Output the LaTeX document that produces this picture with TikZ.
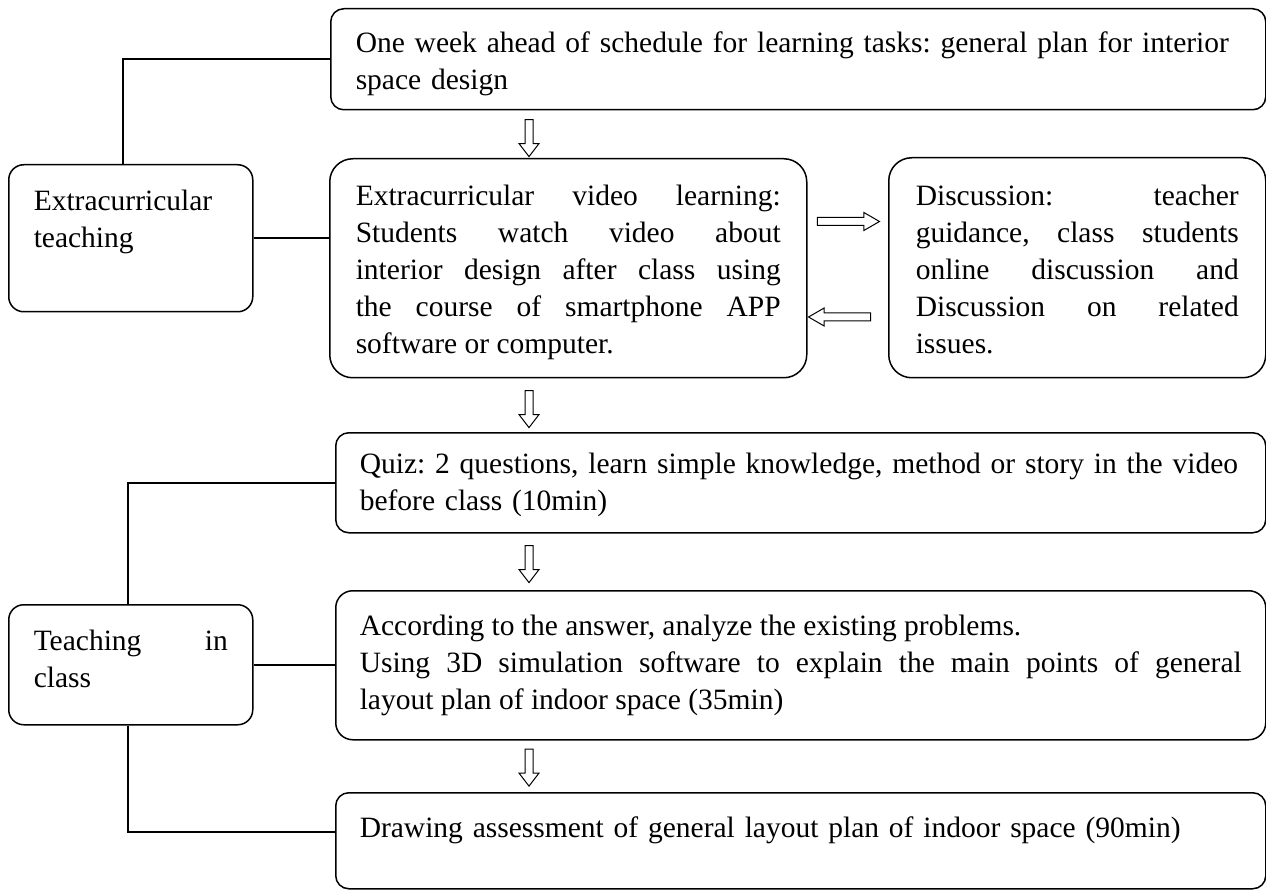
\documentclass[tikz,border=0pt]{standalone}
\usepackage{fontspec}
\setmainfont{Liberation Serif}
\usetikzlibrary{shapes.arrows}
\hyphenpenalty=10000
\hbadness=10000
\frenchspacing

\tikzset{
  stage/.style={draw, line width=1.5pt, anchor=north west, inner xsep=25pt, inner ysep=0pt,
    font=\fontsize{29.5}{37}\selectfont},
  link/.style={line width=1.5pt},
  downarrow/.style={single arrow, draw, line width=1pt, shape border rotate=270, inner xsep=3.5pt, inner ysep=0pt,
    minimum height=37pt, single arrow head extend=6pt, single arrow tip angle=75},
  sidearrow/.style={single arrow, draw, line width=1pt, inner xsep=0pt, inner ysep=3.5pt,
    minimum height=62pt, single arrow head extend=5pt, single arrow tip angle=60},
}

\begin{document}
\begin{tikzpicture}[x=1pt,y=1pt,yscale=-1]
\useasboundingbox (0,0) rectangle (1266,890); %whole page

% Extracurricular part
\node[stage, rounded corners=13pt, text width=885pt, text height=44pt, text depth=57pt, align=left] (plan) at (330,8)
  {One week ahead of schedule for learning tasks: general plan for interior\\space design};
\node[stage, rounded corners=15pt, text width=194pt, text height=46pt, text depth=101pt, align=left] (extra) at (8,164)
  {Extracurricular\\teaching};
\node[stage, rounded corners=23pt, inner xsep=26pt, text width=425pt, text height=47pt, text depth=172pt, align=justify] (video) at (329,158)
  {Extracurricular video learning:\linebreak Students watch video about\linebreak interior design after class using\linebreak the course of smartphone APP\linebreak software or computer.};
\node[stage, rounded corners=23pt, inner xsep=27pt, text width=323pt, text height=48pt, text depth=172pt, align=justify] (disc) at (888,157)
  {Discussion: teacher\linebreak guidance, class students\linebreak online discussion and\linebreak Discussion on related\linebreak issues.};

% Teaching in class part
\node[stage, rounded corners=13pt, inner xsep=24pt, text width=882pt, text height=41pt, text depth=59pt, align=left] (quiz) at (335,432)
  {Quiz: 2 questions, learn simple knowledge, method or story in the video\\before class (10min)};
\node[stage, rounded corners=17pt, inner xsep=24pt, text width=882pt, text height=45pt, text depth=104pt, align=justify] (expl) at (335,590)
  {According to the answer, analyze the existing problems.\\Using 3D simulation software to explain the main points of general\linebreak layout plan of indoor space (35min)};
\node[stage, rounded corners=13pt, inner xsep=24pt, text width=882pt, text height=45pt, text depth=51pt, align=left] (assess) at (335,792)
  {Drawing assessment of general layout plan of indoor space (90min)};
\node[stage, rounded corners=15pt, text width=194pt, text height=46pt, text depth=74pt, align=justify] (teach) at (8,604)
  {Teaching in\linebreak class};

% hollow arrows
\node[downarrow] (arr1) at (529,135.5) {};
\node[downarrow] (arr2) at (529,406.5) {};
\node[downarrow] (arr3) at (529,561.5) {};
\node[downarrow] (arr4) at (529,765) {};
\node[sidearrow] (arr5) at (845,221.5) {};
\node[sidearrow, shape border rotate=180] (arr6) at (843,317) {};

% links
\draw[link] ([xshift=-8pt]extra.north) |- (plan.west);
\draw[link] (extra.east) -- (extra.east -| video.west);
\draw[link] ([xshift=-3pt]teach.north) |- (quiz.west);
\draw[link] (teach.east) -- (teach.east -| expl.west);
\draw[link] ([xshift=-3pt]teach.south) |- ([yshift=-9pt]assess.west);

\end{tikzpicture}
\end{document}
